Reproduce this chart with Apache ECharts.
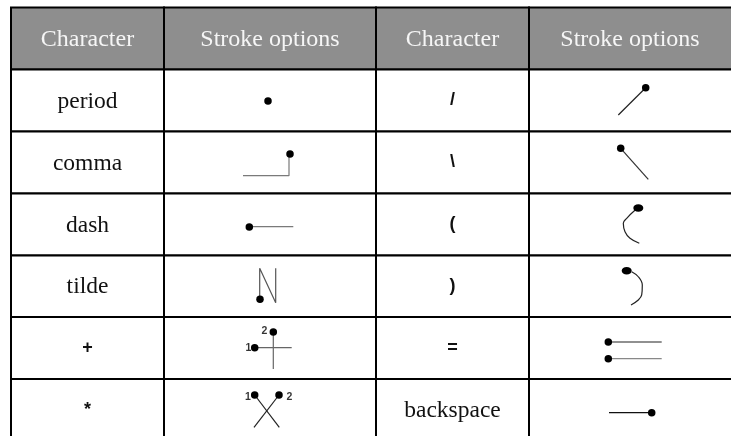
<!DOCTYPE html>
<html><head><meta charset="utf-8">
<script src="https://cdn.jsdelivr.net/npm/echarts@6/dist/echarts.min.js"></script>
<style>html,body{margin:0;padding:0;background:#fff}#c{width:731px;height:436px}</style>
</head><body><div id="c"></div>
<script>
// ---- table content ----
const headers = ['Character', 'Stroke options', 'Character', 'Stroke options'];
const leftChars = ['period', 'comma', 'dash', 'tilde', '+', '*'];
const rightChars = ['/', '\\', '(', ')', '=', 'backspace'];

// ---- stroke diagrams: point offsets from the cell centre ----
// polylines
const leftStrokeLines = [
  [],                                                         // period
  [[[-27, 13.2], [19, 13.2], [19, -7]]],                      // comma
  [[[-20.7, 2.2], [23.3, 2.2]]],                              // dash
  [[[-10.3, 13], [-10.3, -18], [5.7, 16.5], [5.7, -18]]],     // tilde
  [[[-15.3, -0.3], [21.7, -0.3]], [[3.3, -16], [3.3, 21]]],   // +
  [[[-15.3, -15], [9.3, 17.3]], [[9, -15], [-16, 17.3]]]      // *
];
const rightStrokeLines = [
  [[[15.7, -12.8], [-11.7, 14.5]]],                           // /
  [[[-9.3, -14.2], [18.3, 16.8]]],                            // \
  [[[6, -15.2], [-3.3, -6.2], [-6.7, -1.2], [-5, 7.2], [0, 13.8], [9.3, 18.8]]], // (
  [[[1.7, -14.5], [8.3, -9.5], [12.3, -1.2], [11.7, 8.7], [8.3, 13.7], [1, 18.7]]], // )
  [[[-21.7, -6], [31.7, -6]], [[-21.7, 10.7], [31.7, 10.7]]], // =
  [[[-21, 2.7], [21.7, 2.7]]]                                 // backspace
];
// start dots
const leftStrokeDots = [
  [[-2, 0.5]], [[20, -8.5]], [[-20.7, 2.6]], [[-10, 13]],
  [[-15.3, -0.3], [3.3, -16]], [[-15.3, -15], [9, -15]]
];
const rightStrokeDots = [
  [[15.7, -12.8]], [[-9.3, -14.2]], [[8.3, -16.5]], [[-3.3, -15.5]],
  [[-21.7, -6], [-21.7, 10.7]], [[21.7, 2.7]]
];
// stroke order numbers
const leftStrokeNums = [[], [], [], [], [['1', -21.5, 0.5], ['2', -5.5, -17]], [['1', -22, -13], ['2', 19.5, -13]]];

// ---- layout (not data) ----
const colEdges = [11, 164, 376, 529, 733];
const rowEdges = [7.5, 69.5, 131.5, 193.5, 255.5, 317, 379, 441];
const smoothRows = { 2: true, 3: true };
const leftLineColors = [[], ['#7a7a7a'], ['#7a7a7a'], ['#555'], ['#666', '#666'], ['#222', '#222']];
const rightLineColors = [['#222'], ['#333'], ['#222'], ['#222'], ['#222', '#888'], ['#111']];
const dotSizes = { r2: [10, 7.5], r3: [10, 7.5] };

const cxs = [87.5, 270, 452.5, 630];
const cy = r => (rowEdges[r + 1] + rowEdges[r + 2]) / 2; // body row r (0-based)

const cells = [];
for (let r = 0; r < rowEdges.length - 1; r++)
  for (let c = 0; c < colEdges.length - 1; c++) cells.push([c, r]);

function cellText(c, r) {
  if (r === 0) return headers[c];
  if (c === 0) return leftChars[r - 1];
  if (c === 2) return rightChars[r - 1];
  return '';
}

const series = [{
  type: 'custom',
  coordinateSystem: 'cartesian2d',
  data: cells,
  silent: true,
  z: 1,
  clip: false,
  renderItem(params, api) {
    const c = api.value(0), r = api.value(1);
    const p0 = api.coord([colEdges[c], rowEdges[r]]);
    const p1 = api.coord([colEdges[c + 1], rowEdges[r + 1]]);
    const t = cellText(c, r);
    const isSym = t.length === 1;
    const tx = api.coord([cxs[c], 0])[0];
    return {
      type: 'group',
      children: [
        { type: 'rect', shape: { x: p0[0], y: p0[1], width: p1[0] - p0[0], height: p1[1] - p0[1] },
          style: { fill: r === 0 ? '#8e8e8e' : '#fff', stroke: '#000', lineWidth: 2 } },
        { type: 'text', z2: 5,
          style: { text: t, x: tx, y: (p0[1] + p1[1]) / 2 + (isSym ? 0 : 1),
            align: 'center', verticalAlign: 'middle',
            font: isSym ? 'bold 18px "Liberation Sans", Arial, sans-serif'
                        : (r === 0 ? '24px' : '23.5px') + ' "Liberation Serif", "Times New Roman", serif',
            fill: r === 0 ? '#f6f6f6' : '#111' } }
      ]
    };
  }
}];

function addStrokes(lines, colors, col) {
  lines.forEach((group, r) => {
    group.forEach((pts, i) => {
      series.push({
        type: 'line', z: 5, silent: true, showSymbol: false, animation: false,
        smooth: smoothRows[r] && col === 3 ? 0.4 : false,
        lineStyle: { color: colors[r][i] || '#222', width: 1.2 },
        data: pts.map(p => [cxs[col] + p[0], cy(r) + p[1]])
      });
    });
  });
}
addStrokes(leftStrokeLines, leftLineColors, 1);
addStrokes(rightStrokeLines, rightLineColors, 3);

const dotData = [];
leftStrokeDots.forEach((g, r) => g.forEach(p => dotData.push({ value: [cxs[1] + p[0], cy(r) + p[1]], symbolSize: 7.5 })));
rightStrokeDots.forEach((g, r) => g.forEach(p => dotData.push({
  value: [cxs[3] + p[0], cy(r) + p[1]], symbolSize: dotSizes['r' + r] || 7.5 })));
series.push({ type: 'scatter', z: 6, silent: true, animation: false, data: dotData,
  itemStyle: { color: '#000', opacity: 1 } });

const numData = [];
leftStrokeNums.forEach((g, r) => g.forEach(n => numData.push({ value: [cxs[1] + n[1], cy(r) + n[2]], name: n[0] })));
series.push({ type: 'scatter', z: 7, silent: true, animation: false, symbolSize: 0, data: numData,
  label: { show: true, position: 'inside', formatter: p => p.name, textBorderWidth: 0,
    fontFamily: '"Liberation Sans", Arial, sans-serif', fontWeight: 'bold', fontSize: 10.5, color: '#000' } });

const chart = echarts.init(document.getElementById('c'), null, { renderer: 'canvas' });
chart.setOption({
  animation: false,
  backgroundColor: '#fff',
  grid: { left: 0, right: 0, top: 0, bottom: 0 },
  xAxis: { type: 'value', min: 0, max: 731, show: false },
  yAxis: { type: 'value', min: 0, max: 436, inverse: true, show: false },
  series
});
</script></body></html>
